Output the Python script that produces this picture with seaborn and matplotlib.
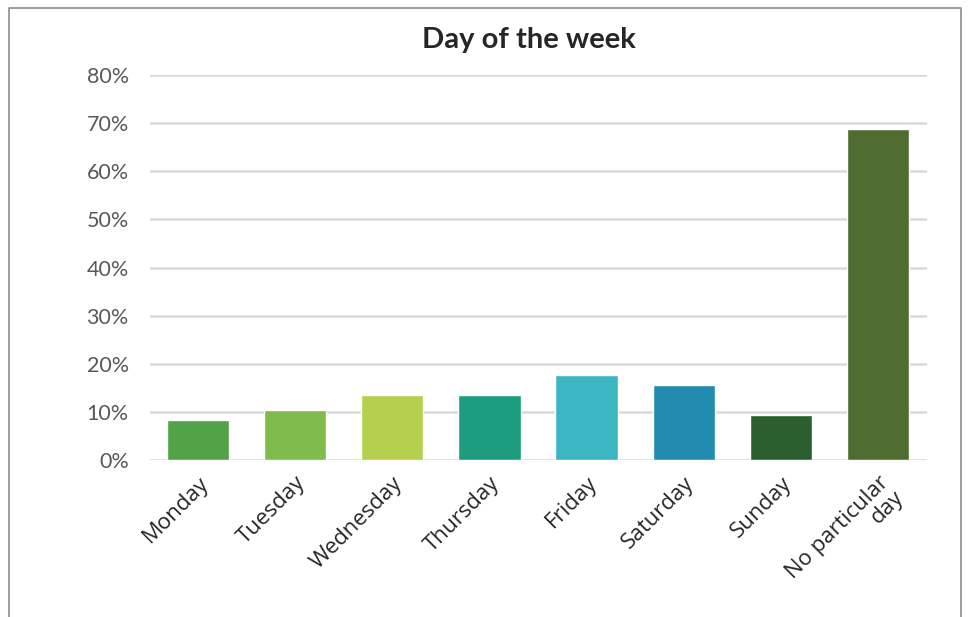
import matplotlib
matplotlib.use("Agg")
import matplotlib.pyplot as plt
from matplotlib.lines import Line2D
from matplotlib.ticker import PercentFormatter
import seaborn as sns
import pandas as pd

days = ["Monday", "Tuesday", "Wednesday", "Thursday", "Friday",
        "Saturday", "Sunday", "No particular\nday"]
shares = [0.083, 0.104, 0.135, 0.135, 0.177, 0.156, 0.094, 0.688]
colors = ["#52A248", "#80BC4C", "#B4D04E", "#1E9C7E", "#3BB6C2",
          "#218BB0", "#2B5F2F", "#4F6C31"]
yticks = [0, 0.1, 0.2, 0.3, 0.4, 0.5, 0.6, 0.7, 0.8]

sns.set_theme(style="white")
plt.rcParams["font.family"] = ["Lato", "DejaVu Sans"]

W, H = 968, 617
fig = plt.figure(figsize=(W / 100, H / 100), dpi=100)
ax = fig.add_axes([149.5 / W, 1 - 460 / H, (926.5 - 149.5) / W, (460 - 75) / H])

df = pd.DataFrame({"day": days, "share": shares})
sns.barplot(data=df, x="day", y="share", hue="day", palette=colors,
            legend=False, width=0.64, saturation=1, ax=ax, zorder=3)

ax.set_ylim(0, 0.8)
ax.set_yticks(yticks)
ax.yaxis.set_major_formatter(PercentFormatter(1.0, decimals=0))
ax.grid(axis="y", color="#D9D9D9", linewidth=1.8, zorder=0)
ax.set_axisbelow(True)
for s in ax.spines.values():
    s.set_visible(False)
ax.set_xlabel("")
ax.set_ylabel("")
ax.tick_params(axis="y", length=0, pad=15, labelsize=15.5, labelcolor="#595959")
ax.tick_params(axis="x", length=0, pad=9, labelsize=16, labelcolor="#262626")
plt.setp(ax.get_xticklabels(), rotation=45, ha="right", rotation_mode="anchor",
         multialignment="right", family=["Open Sans", "DejaVu Sans"],
         linespacing=1.0)

fig.text(529 / W, 1 - 40 / H, "Day of the week", ha="center", va="center",
         fontsize=21, fontweight="bold", color="#262626")

# outer frame (open at the bottom)
fig.add_artist(Line2D([9 / W, 9 / W, 961 / W, 961 / W],
                      [0, 1 - 8 / H, 1 - 8 / H, 0],
                      transform=fig.transFigure, color="#8C8C8C", linewidth=1.2))

fig.savefig("out.png", dpi=100)
